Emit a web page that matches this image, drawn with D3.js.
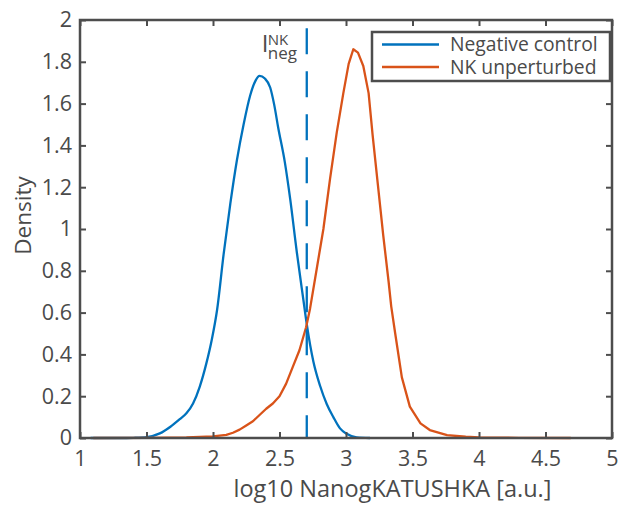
<!DOCTYPE html>
<html>
<head>
<meta charset="utf-8">
<script src="https://cdn.jsdelivr.net/npm/d3@7"></script>
<style>
  html, body { margin: 0; padding: 0; background: #fff; }
  svg { display: block; }
  text { font-family: "Open Sans", "Noto Sans", sans-serif; fill: #4a4a4a; }
</style>
</head>
<body>
<svg id="chart" width="626" height="508"></svg>
<script>
// Kernel density estimates of log10 NanogKATUSHKA intensity
const negX = [1.08, 1.3, 1.4, 1.5, 1.6, 1.68, 1.75, 1.8, 1.85, 1.9, 1.95, 1.99, 2.03, 2.08, 2.13, 2.18, 2.23, 2.28, 2.32, 2.35, 2.39, 2.43, 2.46, 2.49, 2.54, 2.58, 2.63, 2.68, 2.705, 2.755, 2.805, 2.855, 2.905, 2.955, 3.005, 3.08, 3.18];
const negY = [0, 0, 0.001, 0.004, 0.022, 0.054, 0.09, 0.118, 0.165, 0.245, 0.357, 0.468, 0.61, 0.88, 1.12, 1.33, 1.5, 1.64, 1.71, 1.733, 1.72, 1.677, 1.595, 1.486, 1.32, 1.145, 0.89, 0.659, 0.545, 0.365, 0.25, 0.163, 0.10, 0.046, 0.02, 0.003, 0];

const nkX = [1.1, 1.5, 1.8, 2.0, 2.1, 2.15, 2.2, 2.25, 2.3, 2.35, 2.4, 2.45, 2.5, 2.55, 2.6, 2.65, 2.7, 2.73, 2.78, 2.83, 2.88, 2.93, 2.98, 3.02, 3.055, 3.09, 3.13, 3.17, 3.2, 3.24, 3.28, 3.32, 3.34, 3.37, 3.42, 3.48, 3.56, 3.63, 3.76, 3.9, 4.0, 4.3, 4.69];
const nkY = [0, 0.001, 0.003, 0.008, 0.015, 0.025, 0.04, 0.06, 0.08, 0.11, 0.14, 0.165, 0.2, 0.26, 0.34, 0.42, 0.53, 0.62, 0.81, 1.0, 1.24, 1.46, 1.65, 1.79, 1.86, 1.844, 1.78, 1.65, 1.45, 1.21, 0.97, 0.75, 0.63, 0.5, 0.29, 0.15, 0.07, 0.038, 0.014, 0.006, 0.003, 0.001, 0];

// Threshold on the negative control
const thresholdX = 2.705;
const thresholdTop = 1.96;

const xTicks = [1, 1.5, 2, 2.5, 3, 3.5, 4, 4.5, 5];
const yTicks = [0, 0.2, 0.4, 0.6, 0.8, 1, 1.2, 1.4, 1.6, 1.8, 2];
const seriesNames = ["Negative control", "NK unperturbed"];
const seriesColors = ["#0072BD", "#D95319"];

const svg = d3.select("#chart");
const pLeft = 80, pRight = 612, pTop = 20, pBottom = 438;
const axisColor = "#4d4d4d";

const x = d3.scaleLinear().domain([1, 5]).range([pLeft, pRight]);
const y = d3.scaleLinear().domain([0, 2]).range([pBottom, pTop]);

const fmt = d => String(d);

// Curves
const negData = negX.map((v, i) => [v, negY[i]]);
const nkData = nkX.map((v, i) => [v, nkY[i]]);

svg.append("path")
  .datum(negData)
  .attr("fill", "none")
  .attr("stroke", seriesColors[0])
  .attr("stroke-width", 2.3)
  .attr("stroke-linejoin", "round")
  .attr("d", d3.line().x(d => x(d[0])).y(d => y(d[1])).curve(d3.curveMonotoneX));

svg.append("path")
  .datum(nkData)
  .attr("fill", "none")
  .attr("stroke", seriesColors[1])
  .attr("stroke-width", 2.3)
  .attr("stroke-linejoin", "round")
  .attr("d", d3.line().x(d => x(d[0])).y(d => y(d[1])));

// Dashed threshold line
svg.append("path")
  .attr("fill", "none")
  .attr("stroke", seriesColors[0])
  .attr("stroke-width", 2.3)
  .attr("stroke-dasharray", "26,17")
  .attr("d", d3.line()([[x(thresholdX), y(thresholdTop)], [x(thresholdX), y(0)]]));

// Axes (ticks inward on all four sides)
const tickLen = 6;
const gx = svg.append("g").attr("transform", `translate(0,${pBottom})`)
  .call(d3.axisBottom(x).tickValues(xTicks).tickSize(-tickLen).tickPadding(13).tickFormat(fmt));
const gxTop = svg.append("g").attr("transform", `translate(0,${pTop})`)
  .call(d3.axisTop(x).tickValues(xTicks).tickSize(-tickLen).tickFormat(""));
const gy = svg.append("g").attr("transform", `translate(${pLeft},0)`)
  .call(d3.axisLeft(y).tickValues(yTicks).tickSize(-tickLen).tickPadding(8).tickFormat(fmt));
const gyRight = svg.append("g").attr("transform", `translate(${pRight},0)`)
  .call(d3.axisRight(y).tickValues(yTicks).tickSize(-tickLen).tickFormat(""));

[gx, gxTop, gy, gyRight].forEach(g => {
  g.select(".domain").remove();
  g.selectAll(".tick line").attr("stroke", axisColor).attr("stroke-width", 2);
  g.selectAll(".tick text").attr("fill", "#4a4a4a").style("font-size", "21.5px")
    .style("font-family", "'Open Sans', sans-serif");
});

svg.append("rect")
  .attr("x", pLeft).attr("y", pTop)
  .attr("width", pRight - pLeft).attr("height", pBottom - pTop)
  .attr("fill", "none").attr("stroke", axisColor).attr("stroke-width", 2.5);

// Axis labels
svg.append("text")
  .attr("x", 392.5).attr("y", 497)
  .attr("text-anchor", "middle").style("font-size", "23.5px")
  .text("log10 NanogKATUSHKA [a.u.]");

svg.append("text")
  .attr("transform", "translate(31,215.5) rotate(-90)")
  .attr("text-anchor", "middle").style("font-size", "22.5px")
  .text("Density");

// Threshold annotation: I with superscript NK and subscript neg
const ax0 = x(thresholdX) - 45;
const ann = svg.append("text").attr("x", ax0).attr("y", 52);
ann.append("tspan").style("font-size", "24px").text("I");
ann.append("tspan").attr("x", ax0 + 6).attr("y", 45).style("font-size", "15px").text("NK");
ann.append("tspan").attr("x", ax0 + 6).attr("y", 59).style("font-size", "17px").text("neg");

// Legend
const lg = svg.append("g");
lg.append("rect")
  .attr("x", 372).attr("y", 32).attr("width", 238).attr("height", 49)
  .attr("fill", "#fff").attr("stroke", axisColor).attr("stroke-width", 2.5);
const legendText = lg.append("text").style("font-size", "19.3px");
seriesNames.forEach((name, i) => {
  const yy = 44.5 + i * 22.5;
  lg.append("line").attr("x1", 382).attr("x2", 439).attr("y1", yy).attr("y2", yy)
    .attr("stroke", seriesColors[i]).attr("stroke-width", 2.3);
  legendText.append("tspan").attr("x", 450).attr("y", yy + 6.5).text(name);
});
</script>
</body>
</html>
